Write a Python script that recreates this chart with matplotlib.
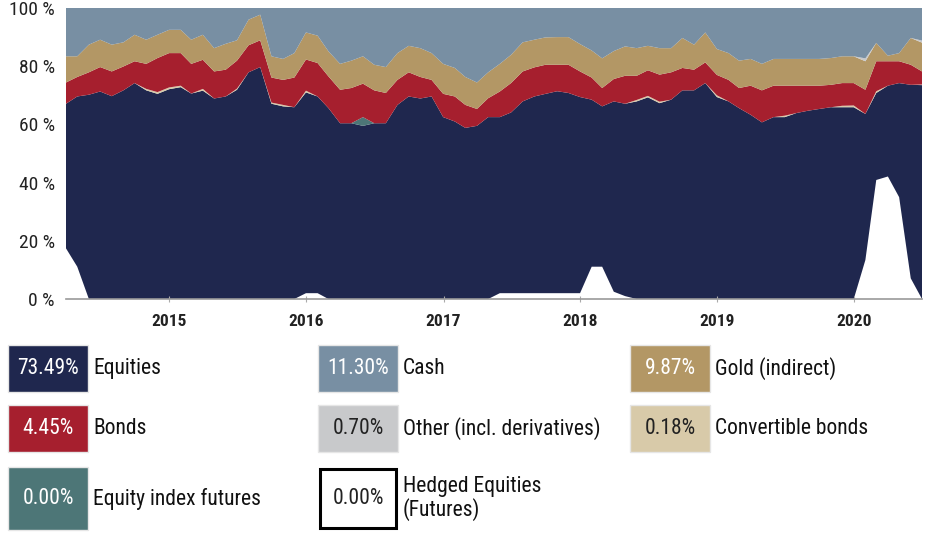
import matplotlib
matplotlib.use('Agg')
import matplotlib.pyplot as plt
import matplotlib.dates as mdates
from matplotlib import font_manager
from matplotlib.patches import Rectangle
import pandas as pd

# monthly allocation (% of portfolio), Mar 2014 .. Jun 2020
hedged = [17.4, 11.1, 0, 0, 0, 0, 0, 0, 0, 0, 0, 0, 0, 0, 0, 0, 0, 0, 0, 0,
          0, 2, 2, 0, 0, 0, 0, 0, 0, 0, 0, 0, 0, 0, 0, 0, 0, 0, 2, 2,
          2, 2, 2, 2, 2, 2, 11.1, 11.1, 2.5, 1, 0, 0, 0, 0, 0, 0, 0, 0, 0, 0,
          0, 0, 0, 0, 0, 0, 0, 0, 0, 0, 13.4, 40.9, 42.1, 35.0, 7.1, 0]
equities = [49.7, 58.5, 70.2, 71.3, 69.7, 71.7, 74.2, 71.7, 70.5, 72.1,
            72.8, 70.6, 71.6, 68.9, 69.6, 71.9, 77.9, 79.7, 67.1, 66.2,
            65.9, 69.0, 67.6, 65.6, 60.4, 60.4, 59.5, 60.4, 60.4, 66.7,
            69.6, 68.9, 69.6, 62.5, 61.0, 58.8, 59.5, 62.5, 60.5, 62.1,
            65.9, 67.6, 68.5, 69.4, 68.8, 67.4, 57.4, 55.1, 65.4, 66.1,
            67.9, 69.3, 67.3, 68.5, 71.7, 71.7, 74.2, 69.4, 67.9, 65.6,
            63.3, 60.7, 62.5, 62.5, 63.9, 64.7, 65.3, 65.9, 65.9, 65.9,
            50.2, 29.9, 31.2, 39.2, 66.5, 73.5]
convertible = [0, 0, 0, 0, 0, 0, 0, 0.5, 0.6, 0.6, 0.5, 0, 0.6, 0, 0, 0.4, 0, 0, 0.4, 0.5,
               0, 0.6, 0, 0, 0, 0, 0, 0, 0, 0, 0, 0, 0, 0, 0, 0, 0, 0, 0, 0,
               0, 0, 0, 0, 0, 0, 0, 0, 0, 0, 0.5, 0.5, 0.5, 0, 0, 0, 0, 0.6, 0, 0,
               0, 0, 0, 0.5, 0, 0, 0, 0, 0.5, 0.6, 0, 0.6, 0, 0, 0, 0.2]
index_futures = [0] * 26 + [3.0] + [0] * 49
bonds = [7.3, 6.7, 7.7, 8.4, 8.5, 8.2, 7.5, 8.6, 11.7, 11.8,
         11.2, 10.2, 10.0, 9.3, 9.2, 9.6, 9.3, 9.2, 8.6, 8.6,
         10.2, 10.7, 11.5, 10.9, 11.5, 12.1, 11.5, 11.3, 10.4, 8.6,
         8.3, 7.4, 5.7, 8.0, 8.6, 7.9, 5.8, 6.5, 8.8, 10.1,
         10.3, 10.0, 10.0, 9.1, 9.7, 8.8, 7.6, 6.3, 7.7, 9.6,
         8.3, 8.8, 9.3, 9.4, 7.7, 7.1, 7.1, 7.0, 7.4, 6.9,
         10.0, 11.0, 10.8, 10.3, 9.4, 8.6, 8.0, 7.7, 7.8, 7.7,
         8.3, 10.3, 8.4, 7.5, 6.9, 4.5]
gold = [9.0, 7.1, 9.5, 9.4, 9.2, 8.3, 9.1, 8.3, 8.0, 8.0,
        8.0, 8.3, 8.6, 8.0, 8.9, 7.0, 8.8, 8.8, 7.3, 7.2,
        8.4, 9.3, 9.4, 8.6, 8.9, 9.4, 9.4, 8.8, 8.9, 9.2,
        9.1, 9.9, 9.2, 10.3, 9.8, 9.6, 9.1, 8.9, 9.5, 9.7,
        10.0, 9.5, 9.4, 9.5, 9.5, 9.4, 9.3, 10.2, 9.6, 10.1,
        9.5, 8.4, 9.1, 8.3, 10.3, 8.6, 10.3, 8.9, 9.2, 9.4,
        9.2, 9.1, 9.2, 9.2, 9.2, 9.2, 9.2, 9.2, 9.2, 9.2,
        9.8, 6.3, 1.9, 2.8, 9.2, 9.9]
other = [0] * 70 + [1.0, 0, 0, 0, 0, 0.7]
cash = [16.6, 16.6, 12.6, 10.9, 12.6, 11.8, 9.2, 10.9, 9.2, 7.5,
        7.5, 10.9, 9.2, 13.8, 12.3, 11.1, 4.0, 2.3, 16.6, 17.5,
        15.5, 8.4, 9.5, 14.9, 19.2, 18.1, 16.6, 19.5, 20.3, 15.5,
        13.0, 13.8, 15.5, 19.2, 20.6, 23.7, 25.6, 22.1, 19.2, 16.1,
        11.8, 10.9, 10.1, 10.0, 10.0, 12.4, 14.6, 17.3, 14.8, 13.2,
        13.8, 13.0, 13.8, 13.8, 10.3, 12.6, 8.4, 14.1, 15.5, 18.1,
        17.5, 19.2, 17.5, 17.5, 17.5, 17.5, 17.5, 17.2, 16.6, 16.6,
        17.3, 12.0, 16.4, 15.5, 10.3, 11.3]

# legend boxes: current weights
leg_names = ['Equities', 'Cash', 'Gold (indirect)',
             'Bonds', 'Other (incl. derivatives)', 'Convertible bonds',
             'Equity index futures', 'Hedged Equities\n(Futures)']
leg_values = ['73.49%', '11.30%', '9.87%', '4.45%', '0.70%', '0.18%', '0.00%', '0.00%']

c_navy = '#1f274e'
c_red = '#a61f2e'
c_gold = '#b39765'
c_cash = '#788fa3'
c_other = '#c8c9cb'
c_conv = '#d8caa9'
c_teal = '#4d7677'

leg_colors = [c_navy, c_cash, c_gold, c_red, c_other, c_conv, c_teal, 'white']
leg_text_colors = ['white', 'white', 'white', 'white', '#222222', '#222222', 'white', '#222222']


def pick_font():
    names = {f.name for f in font_manager.fontManager.ttflist}
    for n in ['Liberation Sans Narrow', 'DejaVu Sans Condensed', 'Roboto Condensed']:
        if n in names:
            return n
    return 'DejaVu Sans'


def main():
    font = pick_font()
    plt.rcParams['font.family'] = [font, 'DejaVu Sans']

    dates = pd.date_range('2014-03-31', periods=len(equities), freq='ME')

    fig = plt.figure(figsize=(9.25, 5.33), dpi=100)
    ax = fig.add_axes([66 / 925, 1 - 299 / 533, (922 - 66) / 925, (299 - 8) / 533])

    ax.stackplot(dates, hedged, equities, convertible, index_futures, bonds, gold, other, cash,
                 colors=['white', c_navy, c_conv, c_teal, c_red, c_gold, c_other, c_cash],
                 linewidth=0)

    ax.set_xlim(dates[0], dates[-1])
    ax.set_ylim(0, 100)
    ax.set_yticks([0, 20, 40, 60, 80, 100])
    ax.set_yticklabels(['%d %%' % v for v in [0, 20, 40, 60, 80, 100]], fontsize=14, color='#222222')
    ax.xaxis.set_major_locator(mdates.YearLocator())
    ax.xaxis.set_major_formatter(mdates.DateFormatter('%Y'))
    for lab in ax.get_xticklabels():
        lab.set_fontsize(12.5)
        lab.set_fontweight('bold')
        lab.set_color('#222222')
    ax.tick_params(axis='y', length=0, pad=8)
    ax.tick_params(axis='x', length=4, color='#aaaaaa', pad=9, direction='inout')
    for s in ['top', 'right', 'left']:
        ax.spines[s].set_visible(False)
    ax.spines['bottom'].set_color('#999999')
    ax.spines['bottom'].set_linewidth(1.2)

    # legend drawn in pixel coordinates
    lg = fig.add_axes([0, 0, 1, 1], zorder=-1)
    lg.set_xlim(0, 925)
    lg.set_ylim(533, 0)
    lg.axis('off')

    col_x = [8, 318, 630]
    rows = [(345, 392), (405, 452), (467, 530)]
    for k in range(len(leg_names)):
        x0 = col_x[k % 3]
        y0, y1 = rows[k // 3]
        if leg_colors[k] == 'white':
            lg.add_patch(Rectangle((x0 + 2, y0 + 2), 76, y1 - y0 - 4, facecolor='white',
                                   edgecolor='black', linewidth=2.2))
        else:
            lg.add_patch(Rectangle((x0, y0), 80, y1 - y0, facecolor=leg_colors[k],
                                   edgecolor='#e6e6e6', linewidth=1))
        lg.text(x0 + 40, (y0 + y1) / 2, leg_values[k], ha='center', va='center',
                fontsize=15.5, color=leg_text_colors[k])
        lg.text(x0 + 85, (y0 + y1) / 2, leg_names[k], ha='left', va='center',
                fontsize=15.5, color='#111111', linespacing=1.1)

    fig.savefig('out.png', dpi=100)


if __name__ == '__main__':
    main()
